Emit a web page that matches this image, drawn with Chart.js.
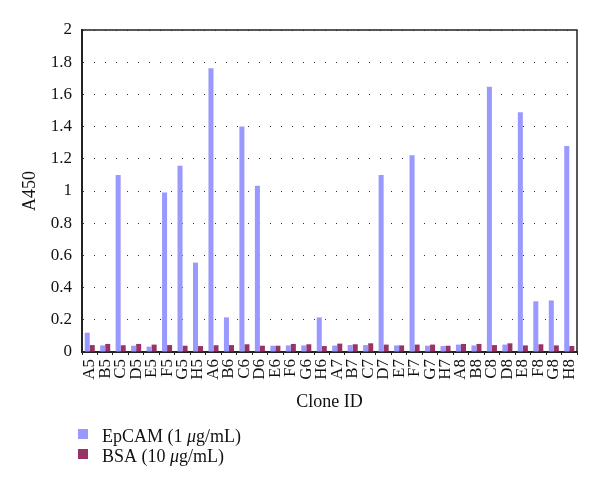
<!DOCTYPE html>
<html>
<head>
<meta charset="utf-8">
<script src="https://cdn.jsdelivr.net/npm/chart.js@4/dist/chart.umd.min.js"></script>
<style>
  html, body { margin: 0; padding: 0; background: #fff; }
  #wrap { width: 600px; height: 491px; position: relative; }
</style>
</head>
<body>
<div id="wrap"><canvas id="c" width="600" height="491"></canvas></div>
<script>
const clones = ["A5","B5","C5","D5","E5","F5","G5","H5",
                "A6","B6","C6","D6","E6","F6","G6","H6",
                "A7","B7","C7","D7","E7","F7","G7","H7",
                "A8","B8","C8","D8","E8","F8","G8","H8"];
const epcam = [0.12, 0.041, 1.10, 0.039, 0.033, 0.99, 1.157, 0.555,
               1.762, 0.215, 1.40, 1.032, 0.039, 0.041, 0.041, 0.215,
               0.040, 0.043, 0.043, 1.099, 0.041, 1.222, 0.039, 0.037,
               0.046, 0.041, 1.648, 0.046, 1.489, 0.315, 0.32, 1.28];
const bsa = [0.043, 0.050, 0.042, 0.050, 0.046, 0.043, 0.039, 0.037,
             0.042, 0.043, 0.048, 0.039, 0.039, 0.050, 0.048, 0.037,
             0.052, 0.048, 0.054, 0.046, 0.041, 0.046, 0.046, 0.039,
             0.050, 0.050, 0.043, 0.054, 0.041, 0.048, 0.041, 0.037];
const yTicks = [0, 0.2, 0.4, 0.6, 0.8, 1, 1.2, 1.4, 1.6, 1.8, 2];
const legendParts = [
  ["EpCAM (1 ", "\u03bc", "g/mL)"],
  ["BSA (10 ", "\u03bc", "g/mL)"]
];

const SERIF = "'Liberation Serif', 'DejaVu Serif', serif";
const INK = '#222222';

const framePlugin = {
  id: 'frame',
  afterDatasetsDraw(chart) {
    const {ctx, chartArea: a} = chart;
    ctx.save();
    ctx.strokeStyle = INK;
    ctx.lineWidth = 1.5;
    ctx.beginPath();
    ctx.moveTo(a.left, a.top);
    ctx.lineTo(a.right, a.top);
    ctx.lineTo(a.right, a.bottom);
    ctx.stroke();
    ctx.restore();
  }
};

const legendPlugin = {
  id: 'stackLegend',
  afterDraw(chart) {
    const ctx = chart.ctx;
    ctx.save();
    chart.data.datasets.forEach((ds, i) => {
      const top = 429 + i * 20;
      ctx.fillStyle = ds.backgroundColor;
      ctx.fillRect(78, top, 10, 10);
      let x = 102;
      const base = top + 12.5;
      ctx.fillStyle = '#111';
      ctx.textBaseline = 'alphabetic';
      ctx.textAlign = 'left';
      legendParts[i].forEach((part, j) => {
        ctx.font = (j === 1 ? 'italic ' : '') + '18px ' + SERIF;
        ctx.fillText(part, x, base);
        x += ctx.measureText(part).width;
      });
    });
    ctx.restore();
  }
};

new Chart(document.getElementById('c'), {
  type: 'bar',
  data: {
    labels: clones,
    datasets: [
      { label: 'EpCAM (1 \u03bcg/mL)', data: epcam, backgroundColor: '#9999ff' },
      { label: 'BSA (10 \u03bcg/mL)', data: bsa, backgroundColor: '#993366' }
    ]
  },
  options: {
    responsive: false,
    animation: false,
    devicePixelRatio: 1,
    layout: { padding: { top: 30, right: 23, bottom: 69, left: 0 } },
    datasets: { bar: { categoryPercentage: 0.65, barPercentage: 1.0 } },
    plugins: { legend: { display: false }, tooltip: { enabled: false } },
    scales: {
      x: {
        offset: true,
        grid: { display: true, drawOnChartArea: false, drawTicks: true, tickLength: 3, color: INK, lineWidth: 1 },
        border: { display: true, color: INK, width: 2 },
        ticks: {
          autoSkip: false, minRotation: 90, maxRotation: 90, padding: 4,
          color: '#111', font: { family: SERIF, size: 17 }
        },
        title: {
          display: true, text: 'Clone ID', color: '#111',
          font: { family: SERIF, size: 18 }, padding: { top: 0, bottom: 9 }
        },
        afterFit(scale) { scale.height = 70; }
      },
      y: {
        min: 0, max: 2,
        afterBuildTicks(scale) { scale.ticks = yTicks.map(v => ({ value: v })); },
        grid: { display: true, drawTicks: false, color: '#333333', lineWidth: 1 },
        border: { display: true, color: INK, width: 2, dash: [1, 10] },
        ticks: {
          padding: 10, color: '#111', font: { family: SERIF, size: 17 },
          callback: v => String(Number(Number(v).toFixed(1)))
        },
        title: {
          display: true, text: 'A450', color: '#111',
          font: { family: SERIF, size: 18 }, padding: { top: 19, bottom: 0 }
        },
        afterFit(scale) { scale.width = 82; }
      }
    }
  },
  plugins: [framePlugin, legendPlugin]
});
</script>
</body>
</html>
